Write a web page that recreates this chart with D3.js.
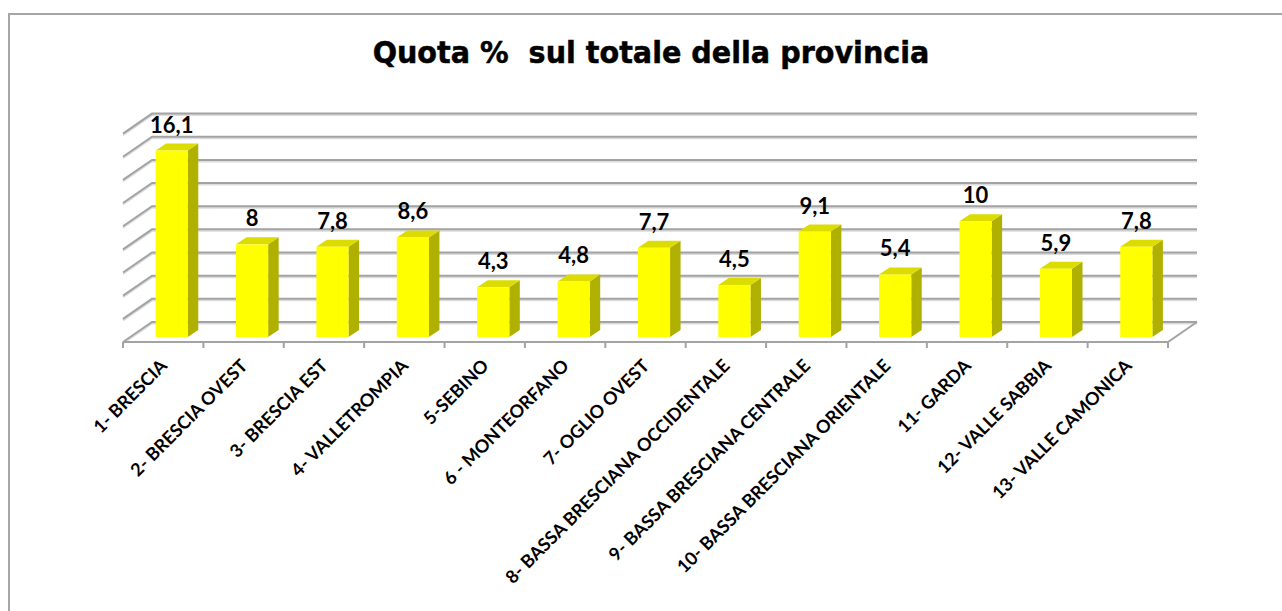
<!DOCTYPE html>
<html>
<head>
<meta charset="utf-8">
<title>Quota % sul totale della provincia</title>
<script src="https://d3js.org/d3.v7.min.js"></script>
<style>
  body { margin: 0; background: #fff; }
</style>
</head>
<body>
<div id="viz"></div>
<script>
// data
const categories = [
  "1- BRESCIA", "2- BRESCIA OVEST", "3- BRESCIA EST", "4- VALLETROMPIA",
  "5-SEBINO", "6 - MONTEORFANO", "7- OGLIO OVEST",
  "8- BASSA BRESCIANA OCCIDENTALE", "9- BASSA BRESCIANA CENTRALE",
  "10- BASSA BRESCIANA ORIENTALE", "11- GARDA", "12- VALLE SABBIA",
  "13- VALLE CAMONICA"
];
const values = [16.1, 8, 7.8, 8.6, 4.3, 4.8, 7.7, 4.5, 9.1, 5.4, 10, 5.9, 7.8];
const gridTicks = [0, 2, 4, 6, 8, 10, 12, 14, 16, 18];
const title = "Quota %  sul totale della provincia";

let width = 1282,
    height = 611;

// depth of the 3d box and of the bars
const depth = { dx: 29, dy: 20 };
const barFront = { dx: 8.5, dy: -5 };
const barDepth = { dx: 10.5, dy: -7 };

let svg = d3.select('#viz')
  .append('svg')
  .attr('width', width)
  .attr('height', height);

// chart area border
svg.append('rect')
  .attr('x', 9).attr('y', 14)
  .attr('width', 1300).attr('height', 640)
  .attr('fill', '#fff')
  .attr('stroke', '#a6a6a6')
  .attr('stroke-width', 2);

// title, fitted to the reference width
let titleText = svg.append('text')
  .attr('x', 0)
  .attr('y', 0)
  .attr('text-anchor', 'middle')
  .style('font-family', '"DejaVu Sans", Verdana, sans-serif')
  .style('font-weight', 'bold')
  .style('font-size', '30px')
  .style('white-space', 'pre')
  .style('stroke', '#000')
  .style('stroke-width', 0.5)
  .text(title);
let tLen = titleText.node().getComputedTextLength();
titleText.attr('transform', `translate(651,63) scale(${557 / tLen},1)`);

let x = d3.scaleBand()
  .domain(categories)
  .range([123, 1168])
  .padding(0);

let y = d3.scaleLinear()
  .domain([0, 18])
  .range([342, 342 - 18 * 11.58]);

const x0 = x.range()[0], x1 = x.range()[1];

// gridlines: left wall + back wall
let grid = svg.append('g').attr('class', 'grid');
gridTicks.forEach(t => {
  let yf = y(t), yb = y(t) - depth.dy;
  let pts = [[x0, yf], [x0 + depth.dx, yb], [x1 + depth.dx, yb]];
  grid.append('polyline')
    .attr('points', pts.map(p => [p[0], p[1] + 1.5].join(',')).join(' '))
    .attr('fill', 'none')
    .attr('stroke', '#dcdcdc')
    .attr('stroke-width', 2);
  grid.append('polyline')
    .attr('points', pts.map(p => p.join(',')).join(' '))
    .attr('fill', 'none')
    .attr('stroke', '#a3a3a3')
    .attr('stroke-width', 2);
});

// floor edges
let floor = svg.append('g').attr('class', 'floor');
floor.append('polyline')
  .attr('points', [[x0, y(0)], [x1, y(0)], [x1 + depth.dx, y(0) - depth.dy]].map(p => p.join(',')).join(' '))
  .attr('fill', 'none')
  .attr('stroke', '#a3a3a3')
  .attr('stroke-width', 2);

// category ticks
let tickPos = categories.map(c => x(c)).concat([x1]);
floor.selectAll('.tick')
  .data(tickPos)
  .enter()
  .append('line')
  .attr('x1', d => d).attr('x2', d => d)
  .attr('y1', y(0)).attr('y2', y(0) + 6)
  .attr('stroke', '#a3a3a3')
  .attr('stroke-width', 2);

// bars
const barW = x.bandwidth() * 0.4;
let bar = svg.selectAll('.bar-group')
  .data(categories.map((c, i) => ({ cat: c, v: values[i] })))
  .enter()
  .append('g')
  .attr('class', 'bar-group');

const barLeft = d => x(d.cat) + x.bandwidth() / 2 - barW / 2 + barFront.dx;
const barTop = d => y(d.v) + barFront.dy;
const barBottom = y(0) + barFront.dy;

bar.append('polygon')
  .attr('points', d => {
    let r = barLeft(d) + barW, t = barTop(d);
    return [[r, t], [r + barDepth.dx, t + barDepth.dy], [r + barDepth.dx, barBottom + barDepth.dy], [r, barBottom]]
      .map(p => p.join(',')).join(' ');
  })
  .attr('fill', '#b0b000');

bar.append('polygon')
  .attr('points', d => {
    let l = barLeft(d), r = l + barW, t = barTop(d);
    return [[l, t], [l + barDepth.dx, t + barDepth.dy], [r + barDepth.dx, t + barDepth.dy], [r, t]]
      .map(p => p.join(',')).join(' ');
  })
  .attr('fill', '#dcdc00');

bar.append('rect')
  .attr('x', d => barLeft(d))
  .attr('y', d => barTop(d))
  .attr('width', barW)
  .attr('height', d => barBottom - barTop(d))
  .attr('fill', '#ffff00');

const fmt = d3.formatLocale({ decimal: ',', thousands: '.', grouping: [3], currency: ['', '€'] }).format('~');

bar.append('text')
  .attr('x', d => barLeft(d) + barW / 2)
  .attr('y', d => barTop(d) + barDepth.dy - 11)
  .attr('text-anchor', 'middle')
  .style('font-family', 'Lato, sans-serif')
  .style('font-weight', 'bold')
  .style('font-size', '22px')
  .text(d => fmt(d.v));

// category labels
svg.append('g')
  .selectAll('text')
  .data(categories)
  .enter()
  .append('text')
  .attr('transform', d => `translate(${x(d) + x.bandwidth() / 2 + 5},367) rotate(-45)`)
  .attr('text-anchor', 'end')
  .style('font-family', 'Lato, sans-serif')
  .style('font-weight', 'bold')
  .style('font-size', '18px')
  .text(d => d);
</script>
</body>
</html>
